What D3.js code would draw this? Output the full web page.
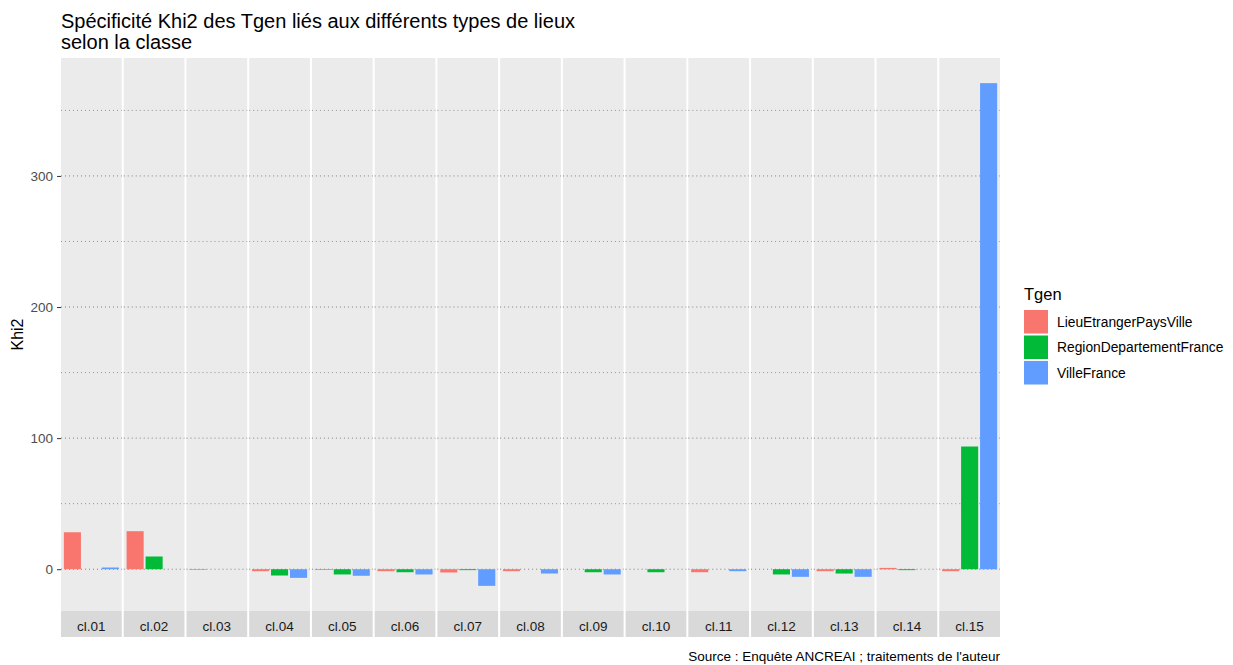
<!DOCTYPE html>
<html>
<head>
<meta charset="utf-8">
<script src="https://cdn.jsdelivr.net/npm/d3@7"></script>
<style>
  body { margin: 0; background: #fff; }
  svg { font-family: "Liberation Sans", Arial, sans-serif; }
</style>
</head>
<body>
<svg width="1233" height="665"></svg>
<script>
// Data
var classes = ["cl.01", "cl.02", "cl.03", "cl.04", "cl.05", "cl.06", "cl.07", "cl.08",
               "cl.09", "cl.10", "cl.11", "cl.12", "cl.13", "cl.14", "cl.15"];
var tgen = ["LieuEtrangerPaysVille", "RegionDepartementFrance", "VilleFrance"];
var lieuEtranger = [28.2, 29.0, -0.5, -1.5, -0.6, -1.5, -2.5, -1.5, null, null, -2.3, null, -1.5, 1.0, -1.5];
var regionDepartement = [null, 9.7, null, -4.8, -4.0, -2.3, -0.7, null, -2.3, -2.3, null, -4.0, -3.3, -0.7, 93.6];
var villeFrance = [1.3, null, null, -6.6, -5.0, -4.0, -12.7, -3.3, -4.0, null, -1.5, -5.8, -5.8, null, 370.8];
var colors = ["#F8766D", "#00BA38", "#619CFF"];
var yTicks = [0, 100, 200, 300];
var yMinor = [50, 150, 250, 350];

var svg = d3.select("svg");

// plot area (top / bottom of the panels)
var pLeft = 61, pRight = 1000, pTop = 58, pBottom = 611, stripH = 26, gap = 2;

var series = [lieuEtranger, regionDepartement, villeFrance];
var rows = [];
classes.forEach(function(c, i) {
    series.forEach(function(s, j) {
        if (s[i] != null) rows.push({ cls: c, tgen: tgen[j], value: s[i] });
    });
});

// y scale with ggplot style 5% expansion
var ext = d3.extent(rows, function(d) { return d.value; });
var pad = (ext[1] - ext[0]) * 0.05;
var y = d3.scaleLinear().domain([ext[0] - pad, ext[1] + pad]).range([pBottom, pTop]);

// facets
var fx = d3.scaleBand().domain(classes).range([pLeft, pRight])
    .paddingInner(gap / ((pRight - pLeft) / classes.length));
var pw = fx.bandwidth();

// inside each facet, discrete x with 0.6 expansion and bar width 0.9
var xin = d3.scaleLinear().domain([0.4, tgen.length + 0.6]).range([0, pw]);

var panels = svg.selectAll(".panel")
    .data(classes)
    .enter()
    .append("g")
    .attr("class", "panel")
    .attr("transform", function(d) { return "translate(" + fx(d) + ",0)"; });

panels.append("rect")
    .attr("x", 0)
    .attr("y", pTop)
    .attr("width", pw)
    .attr("height", pBottom - pTop)
    .attr("fill", "#EBEBEB");

panels.selectAll(".minor")
    .data(yMinor)
    .enter()
    .append("line")
    .attr("x1", 0).attr("x2", pw)
    .attr("y1", function(d) { return y(d); })
    .attr("y2", function(d) { return y(d); })
    .attr("stroke", "#8a8a8a")
    .attr("stroke-width", 0.9)
    .attr("stroke-dasharray", "1,3");

panels.selectAll(".major")
    .data(yTicks)
    .enter()
    .append("line")
    .attr("x1", 0).attr("x2", pw)
    .attr("y1", function(d) { return y(d); })
    .attr("y2", function(d) { return y(d); })
    .attr("stroke", "#7f7f7f")
    .attr("stroke-width", 1)
    .attr("stroke-dasharray", "1,3");

panels.selectAll(".bar")
    .data(function(c) { return rows.filter(function(r) { return r.cls == c; }); })
    .enter()
    .append("rect")
    .attr("class", "bar")
    .attr("x", function(d) { return xin(tgen.indexOf(d.tgen) + 1 - 0.45); })
    .attr("width", xin(1.45) - xin(0.55))
    .attr("y", function(d) { return y(Math.max(0, d.value)); })
    .attr("height", function(d) { return Math.abs(y(d.value) - y(0)); })
    .attr("fill", function(d) { return colors[tgen.indexOf(d.tgen)]; });

// strips at the bottom
panels.append("rect")
    .attr("x", 0)
    .attr("y", pBottom)
    .attr("width", pw)
    .attr("height", stripH)
    .attr("fill", "#D9D9D9");

panels.append("text")
    .attr("x", pw / 2)
    .attr("y", pBottom + 19.5)
    .attr("text-anchor", "middle")
    .attr("font-size", "13.5px")
    .attr("fill", "#1A1A1A")
    .text(function(d) { return d; });

// y axis
var yAxis = svg.append("g")
    .attr("transform", "translate(" + pLeft + ",0)")
    .call(d3.axisLeft(y).tickValues(yTicks).tickSize(4).tickPadding(4));
yAxis.select(".domain").remove();
yAxis.selectAll("line").attr("stroke", "#333333");
yAxis.selectAll("text")
    .attr("fill", "#4D4D4D")
    .style("font-size", "13.5px")
    .style("font-family", "Liberation Sans, Arial, sans-serif");

svg.append("text")
    .attr("transform", "translate(23," + ((pTop + pBottom) / 2) + ") rotate(-90)")
    .attr("text-anchor", "middle")
    .attr("font-size", "16px")
    .attr("fill", "#000")
    .text("Khi2");

// title
var title = svg.append("text")
    .attr("x", pLeft)
    .attr("y", 28)
    .attr("font-size", "20px")
    .attr("fill", "#000");
title.append("tspan").attr("x", pLeft).attr("dy", 0).text("Spécificité Khi2 des Tgen liés aux différents types de lieux");
title.append("tspan").attr("x", pLeft).attr("dy", 21).text("selon la classe");

// caption
svg.append("text")
    .attr("x", pRight)
    .attr("y", 661)
    .attr("text-anchor", "end")
    .attr("font-size", "13.5px")
    .attr("fill", "#000")
    .text("Source : Enquête ANCREAI ; traitements de l'auteur");

// legend
var legend = svg.append("g")
    .attr("transform", "translate(1024,0)");

legend.append("text")
    .attr("x", 0)
    .attr("y", 300)
    .attr("font-size", "16.5px")
    .attr("fill", "#000")
    .text("Tgen");

var item = legend.selectAll(".legenditem")
    .data(tgen)
    .enter()
    .append("g")
    .attr("class", "legenditem")
    .attr("transform", function(d, i) { return "translate(0," + (310 + i * 25.5) + ")"; });

item.append("rect")
    .attr("x", 0)
    .attr("y", 0)
    .attr("width", 24)
    .attr("height", 23.5)
    .attr("fill", function(d, i) { return colors[i]; });

item.append("text")
    .attr("x", 33)
    .attr("y", 16.5)
    .attr("font-size", "13.8px")
    .attr("fill", "#000")
    .text(function(d) { return d; });
</script>
</body>
</html>
